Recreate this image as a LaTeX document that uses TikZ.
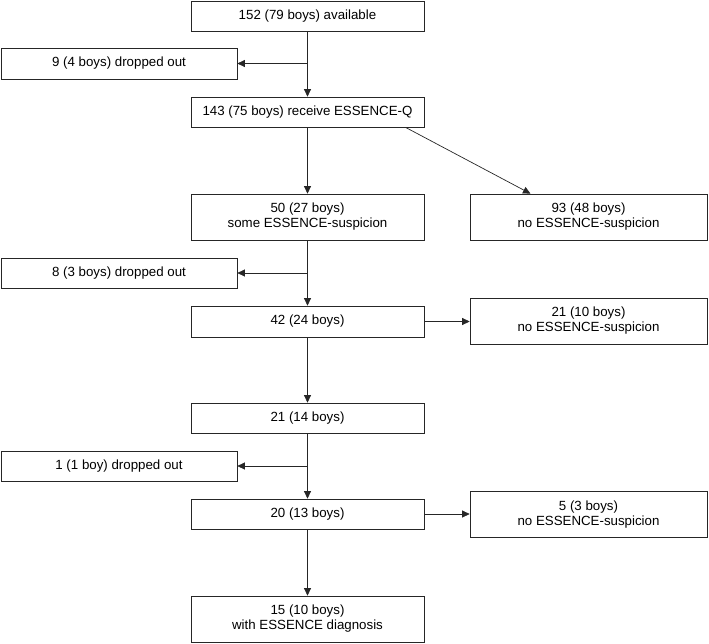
\documentclass[tikz,border=0pt]{standalone}
\usepackage{fontspec}
\setmainfont{Liberation Sans}
\usetikzlibrary{arrows.meta}
\begin{document}
\begin{tikzpicture}[x=1pt,y=-1pt,
  box/.style={draw=black!85,line width=0.7pt,rectangle,inner sep=0pt,align=center,
    font=\fontsize{13.3}{15}\selectfont},
  midbox/.style={box,minimum width=233,minimum height=30},
  sidebox/.style={box,minimum width=236,minimum height=31},
  rightbox/.style={box,minimum width=237,minimum height=46},
  arr/.style={line width=0.7pt,draw=black!85,-{Triangle[length=7.5pt,width=7pt]}}]
\useasboundingbox (0,0) rectangle (709,643);
\node[midbox] (a) at (307.5,16) {152 (79 boys) available};
\node[sidebox] (b) at (119,63.5) {9 (4 boys) dropped out};
\node[midbox] (c) at (307.5,112) {143 (75 boys) receive ESSENCE-Q};
\node[midbox,minimum height=46] (d) at (307.5,217) {50 (27 boys)\\some ESSENCE-suspicion};
\node[rightbox] (e) at (588.5,217) {93 (48 boys)\\no ESSENCE-suspicion};
\node[sidebox,minimum height=30] (f) at (119,273) {8 (3 boys) dropped out};
\node[midbox,minimum height=31] (g) at (307.5,321.5) {42 (24 boys)};
\node[rightbox] (h) at (588.5,321) {21 (10 boys)\\no ESSENCE-suspicion};
\node[midbox] (i) at (307.5,418) {21 (14 boys)};
\node[sidebox,minimum height=30] (j) at (119,466) {1 (1 boy) dropped out};
\node[midbox] (k) at (307.5,514) {20 (13 boys)};
\node[rightbox] (l) at (588.5,514.5) {5 (3 boys)\\no ESSENCE-suspicion};
\node[midbox,minimum height=46] (m) at (307.5,619) {15 (10 boys)\\with ESSENCE diagnosis};
\draw[arr] (a) -- (c);
\draw[arr] (a.south |- b.east) -- (b.east);
\draw[arr] ([xshift=98pt]c.south) -- ([xshift=-58pt]e.north);
\draw[arr] (c) -- (d);
\draw[arr] (d) -- (g);
\draw[arr] (d.south |- f.east) -- (f.east);
\draw[arr] (g.east) -- (h.west |- g.east);
\draw[arr] (g) -- (i);
\draw[arr] (i) -- (k);
\draw[arr] (i.south |- j.east) -- (j.east);
\draw[arr] (k.east) -- (l.west |- k.east);
\draw[arr] (k) -- (m);
\end{tikzpicture}
\end{document}
